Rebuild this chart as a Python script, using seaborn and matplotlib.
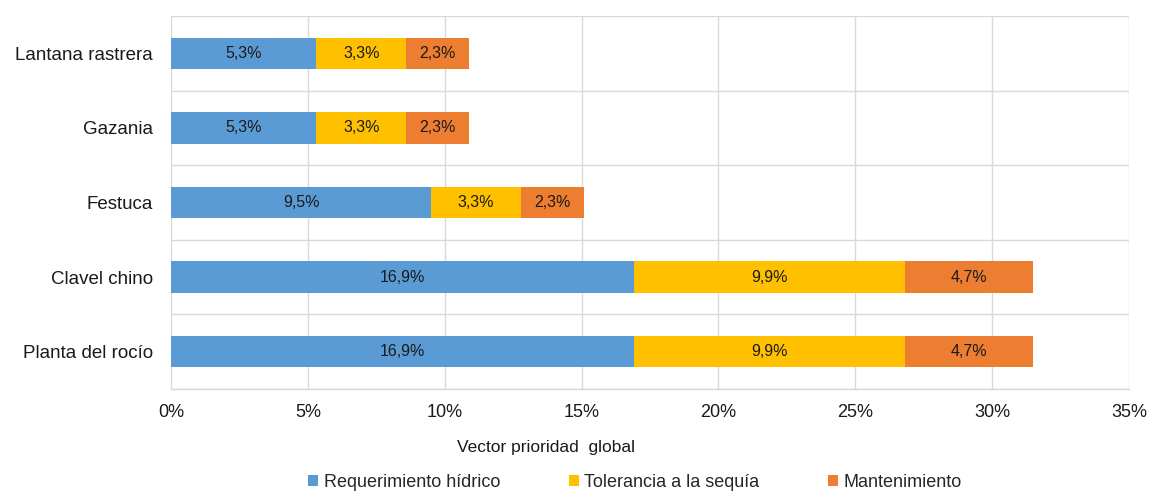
import matplotlib
matplotlib.use("Agg")
import matplotlib.pyplot as plt
from matplotlib.patches import Patch
import numpy as np
import pandas as pd
import seaborn as sns

# Global priority vector per plant (percent), split by criterion
plants = ["Lantana rastrera", "Gazania", "Festuca", "Clavel chino", "Planta del rocío"]
criteria = ["Requerimiento hídrico", "Tolerancia a la sequía", "Mantenimiento"]
requerimiento = [5.3, 5.3, 9.5, 16.9, 16.9]
tolerancia = [3.3, 3.3, 3.3, 9.9, 9.9]
mantenimiento = [2.3, 2.3, 2.3, 4.7, 4.7]
x_ticks = [0, 5, 10, 15, 20, 25, 30, 35]
colors = ["#5B9BD5", "#FFC000", "#ED7D31"]

sns.set_theme(style="white")
plt.rcParams["font.family"] = ["Liberation Sans", "DejaVu Sans"]

series = [np.array(requerimiento), np.array(tolerancia), np.array(mantenimiento)]
cum = np.cumsum(np.vstack(series), axis=0)

fig = plt.figure(figsize=(11.51, 4.94), dpi=100)
ax = fig.add_axes([171 / 1151, 1 - 389 / 494, (1129 - 171) / 1151, (389 - 16) / 494])

# Stacked bars: draw cumulative totals from the outermost segment inward
for i in range(2, -1, -1):
    d = pd.DataFrame({"planta": plants, "valor": cum[i]})
    sns.barplot(data=d, y="planta", x="valor", order=plants, color=colors[i],
                saturation=1, width=0.42, ax=ax, zorder=3, linewidth=0)

# Segment labels
for i in range(3):
    starts = cum[i] - series[i]
    for j, v in enumerate(series[i]):
        ax.text(starts[j] + v / 2, j, f"{v:.1f}%".replace(".", ","),
                ha="center", va="center", fontsize=11.5, color="#1a1a1a", zorder=4)

grid_c = "#D9D9D9"
ax.set_xlim(0, 35)
ax.set_ylim(len(plants) - 0.5, -0.5)
ax.set_xticks(x_ticks)
ax.set_xticklabels([f"{t}%" for t in x_ticks], fontsize=13, color="#1a1a1a")
ax.set_yticks(range(len(plants)))
ax.set_yticklabels(plants, fontsize=13.5, color="#1a1a1a")
ax.set_yticks(np.arange(-0.5, len(plants), 1.0), minor=True)
ax.tick_params(axis="x", length=0, pad=11)
ax.tick_params(axis="y", which="both", length=0, pad=13)
ax.grid(axis="x", which="major", color=grid_c, linewidth=1.0, zorder=0)
ax.grid(axis="y", which="minor", color=grid_c, linewidth=1.0, zorder=0)
ax.grid(axis="y", which="major", visible=False)
for s in ["top", "right", "left"]:
    ax.spines[s].set_visible(False)
ax.spines["bottom"].set_color(grid_c)
ax.spines["bottom"].set_linewidth(1.0)
ax.set_axisbelow(True)

ax.set_ylabel("")
ax.set_xlabel("Vector prioridad  global", fontsize=12.5, color="#1a1a1a")
ax.xaxis.set_label_coords((546 - 171) / 958, -0.138)

handles = [Patch(facecolor=c, edgecolor="none") for c in colors]
fig.legend(handles, criteria, loc="center", bbox_to_anchor=(635 / 1151, 0.024),
           ncol=3, frameon=False, fontsize=13, handlelength=0.55, handleheight=0.55,
           handletextpad=0.3, columnspacing=3.8, borderpad=0)

fig.savefig("out.png", dpi=100, facecolor="white")
